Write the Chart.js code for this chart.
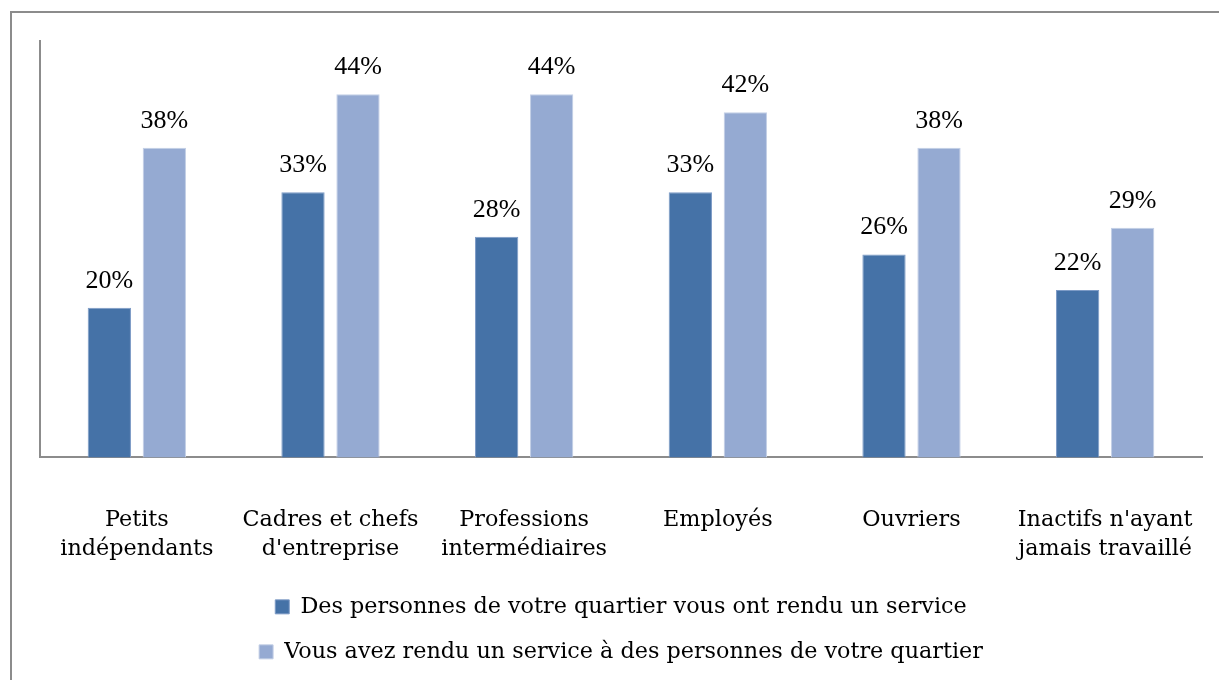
<!DOCTYPE html>
<html>
<head>
<meta charset="utf-8">
<script src="https://cdn.jsdelivr.net/npm/chart.js@4"></script>
<style>
  body { margin: 0; background: #fff; overflow: hidden; }
  #frame { position: absolute; left: 10px; top: 11px; width: 1400px; height: 900px;
           border-top: 2px solid #8c8c8c; border-left: 2px solid #8c8c8c; }
  #box { position: absolute; left: 0; top: 0; width: 1219px; height: 680px; }
</style>
</head>
<body>
<div id="frame"></div>
<div id="box"><canvas id="serviceChart"></canvas></div>
<script>
var categories = [
    ['Petits', 'indépendants'],
    ['Cadres et chefs', "d'entreprise"],
    ['Professions', 'intermédiaires'],
    ['Employés'],
    ['Ouvriers'],
    ["Inactifs n'ayant", 'jamais travaillé']
];
var recuValues = [20, 33, 28, 33, 26, 22];
var rendueValues = [38, 44, 44, 42, 38, 29];
var seriesNames = [
    'Des personnes de votre quartier vous ont rendu un service',
    'Vous avez rendu un service à des personnes de votre quartier'
];

// Colors for the two series
var darkColor = '#4572a7';
var lightColor = '#95aad2';

// draws the percentage above each bar
var valueLabels = {
    id: 'valueLabels',
    afterDatasetsDraw: function(chart) {
        var ctx = chart.ctx;
        ctx.save();
        ctx.font = '26px "Liberation Serif"';
        ctx.fillStyle = '#000';
        ctx.textAlign = 'center';
        ctx.textBaseline = 'alphabetic';
        chart.data.datasets.forEach(function(ds, i) {
            chart.getDatasetMeta(i).data.forEach(function(bar, j) {
                ctx.fillText(ds.data[j] + '%', bar.x, bar.y - 20);
            });
        });
        ctx.restore();
    }
};

var ctx = document.getElementById('serviceChart').getContext('2d');
var serviceChart = new Chart(ctx, {
    type: 'bar',
    data: {
        labels: categories,
        datasets: [{
                label: seriesNames[0],
                data: recuValues,
                backgroundColor: darkColor,
                borderColor: '#7d9bc6',
                borderWidth: 1,
            },
            {
                label: seriesNames[1],
                data: rendueValues,
                backgroundColor: lightColor,
                borderColor: '#c3cfe6',
                borderWidth: 1,
            },
        ],
    },
    options: {
        responsive: true,
        maintainAspectRatio: false,
        animation: false,
        categoryPercentage: 0.568,
        barPercentage: 0.787,
        layout: {
            padding: { left: 40, top: 41, right: 17, bottom: 7 }
        },
        scales: {
            x: {
                grid: { display: false, drawTicks: false },
                border: { display: true, color: '#8c8c8c', width: 2 },
                ticks: {
                    color: '#000',
                    padding: 49,
                    maxRotation: 0,
                    font: { family: '"DejaVu Serif"', size: 22.3, lineHeight: 1.274 }
                },
                // labels sit low under the axis, so keep the reserved space tight
                afterFit: function(scale) {
                    scale.paddingLeft = 0;
                    scale.paddingRight = 0;
                    scale.height = scale.height - 39;
                }
            },
            y: {
                min: 3.2,
                max: 50,
                grid: { display: false, drawTicks: false },
                border: { display: true, color: '#8c8c8c', width: 2 },
                ticks: { display: false }
            }
        },
        plugins: {
            tooltip: { enabled: false },
            legend: {
                position: 'bottom',
                labels: {
                    color: '#000',
                    boxWidth: 14,
                    boxHeight: 14,
                    padding: 22.7,
                    font: { family: '"DejaVu Serif"', size: 22.3 }
                }
            }
        }
    },
    plugins: [valueLabels]
});
</script>
</body>
</html>
